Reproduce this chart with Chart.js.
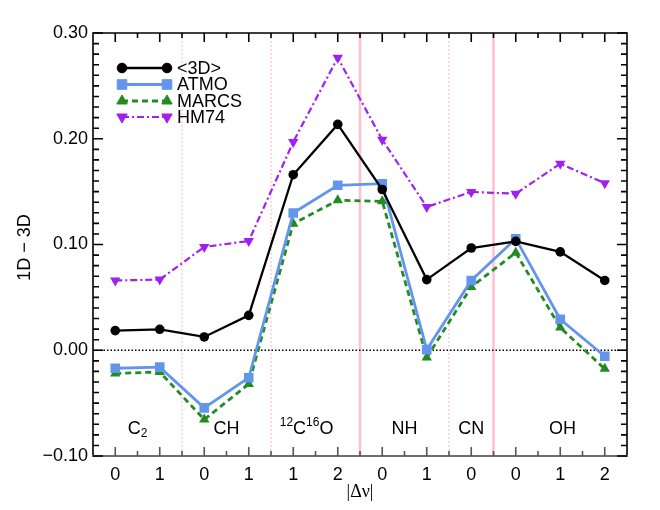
<!DOCTYPE html>
<html>
<head>
<meta charset="utf-8">
<script src="https://cdn.jsdelivr.net/npm/chart.js@4"></script>
<style>
  body { margin: 0; background: #fff; }
  canvas { display: block; }
</style>
</head>
<body>
<canvas id="myChart" width="660" height="510"></canvas>
<script>
// |delta nu| per band, grouped by molecule
var categories = ['0', '1', '0', '1', '1', '2', '0', '1', '0', '0', '1', '2'];

var mean3D = [0.0186, 0.0198, 0.0126, 0.033, 0.166, 0.2136, 0.152, 0.0668, 0.0967, 0.103, 0.093, 0.066];
var atmo   = [-0.017, -0.016, -0.0545, -0.026, 0.1298, 0.156, 0.1575, 0.0006, 0.066, 0.1055, 0.0293, -0.0057];
var marcs  = [-0.022, -0.0205, -0.0655, -0.032, 0.1197, 0.1418, 0.1408, -0.0069, 0.0599, 0.0923, 0.0214, -0.0176];
var hm74   = [0.066, 0.0668, 0.0977, 0.1033, 0.197, 0.2766, 0.199, 0.1355, 0.1497, 0.148, 0.1764, 0.158];

// molecule names and where they sit (in category units)
var molecules = ['C2', 'CH', '12C16O', 'NH', 'CN', 'OH'];
var moleculePos = [0.5, 2.5, 4.3, 6.5, 8, 10.05];

// separators between molecules (solid = stronger divider)
var dividers = [1.5, 3.5, 5.5, 7.5, 8.5];
var dividerSolid = [false, false, true, false, true];

var FONT = '"Liberation Sans", Arial, Helvetica, sans-serif';

function drawMolecule(ctx, name, x, y) {
    ctx.save();
    ctx.fillStyle = '#000';
    ctx.textBaseline = 'middle';
    var big = '18px ' + FONT, small = '12px ' + FONT;
    var parts;
    if (name === 'C2') {
        parts = [['C', big, 0], ['2', small, 5]];
    } else if (name === '12C16O') {
        parts = [['12', small, -6], ['C', big, 0], ['16', small, -6], ['O', big, 0]];
    } else {
        parts = [[name, big, 0]];
    }
    var w = 0;
    parts.forEach(function (p) { ctx.font = p[1]; w += ctx.measureText(p[0]).width; });
    var cx = x - w / 2;
    ctx.textAlign = 'left';
    parts.forEach(function (p) {
        ctx.font = p[1];
        ctx.fillText(p[0], cx, y + p[2]);
        cx += ctx.measureText(p[0]).width;
    });
    ctx.restore();
}

var decorPlugin = {
    id: 'decor',
    beforeDatasetsDraw: function (chart) {
        var ctx = chart.ctx, area = chart.chartArea;
        var xs = chart.scales.x, ys = chart.scales.y;
        ctx.save();
        // molecule dividers
        dividers.forEach(function (d, i) {
            var px = xs.getPixelForValue(d);
            ctx.beginPath();
            ctx.strokeStyle = 'rgb(255, 192, 203)';
            if (dividerSolid[i]) {
                ctx.lineWidth = 2.5;
                ctx.setLineDash([]);
            } else {
                ctx.lineWidth = 1.2;
                ctx.setLineDash([2, 2]);
            }
            ctx.moveTo(px, area.top);
            ctx.lineTo(px, area.bottom);
            ctx.stroke();
        });
        // zero line
        var y0 = ys.getPixelForValue(0);
        ctx.beginPath();
        ctx.strokeStyle = '#000';
        ctx.lineWidth = 1.5;
        ctx.setLineDash([1.5, 2]);
        ctx.moveTo(area.left, y0);
        ctx.lineTo(area.right, y0);
        ctx.stroke();
        ctx.setLineDash([]);
        // molecule labels
        molecules.forEach(function (m, i) {
            drawMolecule(ctx, m, xs.getPixelForValue(moleculePos[i]), 429);
        });
        ctx.restore();
    },
    afterDraw: function (chart) {
        var ctx = chart.ctx, area = chart.chartArea;
        var xs = chart.scales.x, ys = chart.scales.y;
        ctx.save();
        // frame
        ctx.lineWidth = 1.6;
        ctx.strokeStyle = '#000';
        ctx.beginPath();
        ctx.moveTo(area.left, area.bottom);
        ctx.lineTo(area.left, area.top);
        ctx.lineTo(area.right, area.top);
        ctx.lineTo(area.right, area.bottom);
        ctx.stroke();
        ctx.strokeStyle = '#6e6e6e';
        ctx.lineWidth = 2.2;
        ctx.beginPath();
        ctx.moveTo(area.left - 1, area.bottom);
        ctx.lineTo(area.right + 1, area.bottom);
        ctx.stroke();

        // y ticks, minor every 0.01
        ctx.strokeStyle = '#000';
        ctx.lineWidth = 1.6;
        for (var k = -10; k <= 30; k++) {
            var py = ys.getPixelForValue(k / 100);
            var len = (k % 10 === 0) ? 10 : 6;
            ctx.beginPath();
            ctx.moveTo(area.left, py);
            ctx.lineTo(area.left + len, py);
            ctx.moveTo(area.right, py);
            ctx.lineTo(area.right - len, py);
            ctx.stroke();
        }
        // x ticks, major at categories, minor halfway
        for (var h = 0; h <= (categories.length - 1) * 2; h++) {
            var px = xs.getPixelForValue(h / 2);
            var l = (h % 2 === 0) ? 9 : 5;
            ctx.strokeStyle = '#555';
            ctx.beginPath();
            ctx.moveTo(px, area.bottom);
            ctx.lineTo(px, area.bottom - l);
            ctx.stroke();
            ctx.strokeStyle = '#000';
            ctx.beginPath();
            ctx.moveTo(px, area.top);
            ctx.lineTo(px, area.top + l);
            ctx.stroke();
        }

        // axis titles
        ctx.fillStyle = '#000';
        ctx.textAlign = 'center';
        ctx.textBaseline = 'middle';
        ctx.font = '18px "Liberation Serif", "Times New Roman", serif';
        ctx.fillText('|\u0394\u03bd|', xs.getPixelForValue(5.5), 492);
        ctx.save();
        ctx.translate(25, (area.top + area.bottom) / 2 + 3);
        ctx.rotate(-Math.PI / 2);
        ctx.font = '18px ' + FONT;
        ctx.fillText('1D \u2212 3D', 0, 0);
        ctx.restore();

        // legend
        var lx1 = 122, lx2 = 167, ly = [68, 84.5, 101, 117];
        chart.data.datasets.forEach(function (ds, i) {
            var y = ly[i];
            ctx.beginPath();
            ctx.strokeStyle = ds.borderColor;
            ctx.lineWidth = ds.borderWidth;
            ctx.setLineDash(ds.borderDash || []);
            ctx.moveTo(lx1, y);
            ctx.lineTo(lx2, y);
            ctx.stroke();
            ctx.setLineDash([]);
            ctx.fillStyle = ds.pointBackgroundColor;
            ctx.strokeStyle = ds.pointBackgroundColor;
            ctx.lineWidth = 1;
            [lx1, lx2].forEach(function (x) {
                Chart.helpers.drawPoint(ctx, {
                    pointStyle: ds.pointStyle,
                    radius: ds.pointRadius,
                    rotation: ds.pointRotation || 0,
                    borderWidth: 1
                }, x, y);
            });
            ctx.fillStyle = '#000';
            ctx.textAlign = 'left';
            ctx.textBaseline = 'middle';
            ctx.font = '18px ' + FONT;
            ctx.fillText(ds.label, 177, y + 1);
        });
        ctx.restore();
    }
};

var config = {
    type: 'line',
    data: {
        labels: categories,
        datasets: [{
            label: '<3D>',
            data: mean3D,
            borderColor: '#000000',
            borderWidth: 2.3,
            pointStyle: 'circle',
            pointRadius: 4.8,
            pointBackgroundColor: '#000000',
            pointBorderColor: '#000000',
            pointBorderWidth: 0
        }, {
            label: 'ATMO',
            data: atmo,
            borderColor: '#6495ED',
            borderWidth: 2.8,
            pointStyle: 'rect',
            pointRadius: 6.8,
            pointBackgroundColor: '#6495ED',
            pointBorderColor: '#6495ED',
            pointBorderWidth: 0
        }, {
            label: 'MARCS',
            data: marcs,
            borderColor: '#228B22',
            borderWidth: 2.8,
            borderDash: [6, 4],
            pointStyle: 'triangle',
            pointRadius: 6,
            pointBackgroundColor: '#228B22',
            pointBorderColor: '#228B22',
            pointBorderWidth: 0
        }, {
            label: 'HM74',
            data: hm74,
            borderColor: '#A020F0',
            borderWidth: 2.2,
            borderDash: [7, 3, 2, 3],
            pointStyle: 'triangle',
            pointRotation: 180,
            pointRadius: 6,
            pointBackgroundColor: '#A020F0',
            pointBorderColor: '#A020F0',
            pointBorderWidth: 0
        }]
    },
    options: {
        responsive: false,
        animation: false,
        layout: { padding: { top: 33, right: 33, left: 0, bottom: 0 } },
        plugins: {
            legend: { display: false },
            tooltip: { enabled: false }
        },
        elements: { line: { tension: 0 } },
        scales: {
            x: {
                type: 'category',
                offset: true,
                grid: { display: false, drawTicks: false },
                border: { display: false },
                ticks: {
                    color: '#000',
                    padding: 8,
                    maxRotation: 0,
                    autoSkip: false,
                    font: { family: FONT, size: 18 }
                },
                afterFit: function (scale) { scale.height = 54; }
            },
            y: {
                min: -0.1,
                max: 0.3,
                grid: { display: false, drawTicks: false },
                border: { display: false },
                ticks: {
                    stepSize: 0.1,
                    color: '#000',
                    padding: 5,
                    font: { family: FONT, size: 18 },
                    callback: function (v) {
                        return v.toFixed(2).replace('-', '\u2212');
                    }
                },
                afterFit: function (scale) { scale.width = 93; }
            }
        }
    },
    plugins: [decorPlugin]
};

var myChart = new Chart(document.getElementById('myChart'), config);
</script>
</body>
</html>
